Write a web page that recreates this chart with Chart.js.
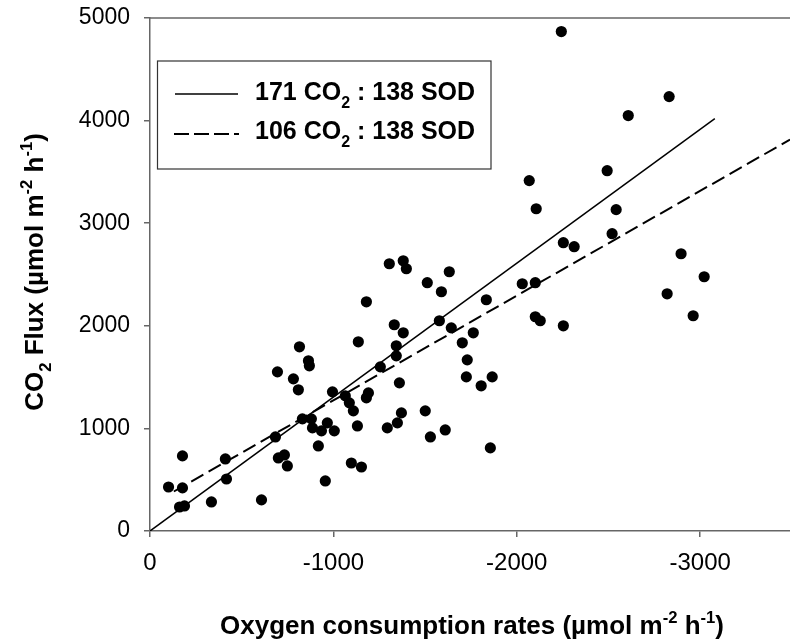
<!DOCTYPE html>
<html>
<head>
<meta charset="utf-8">
<script src="https://cdn.jsdelivr.net/npm/chart.js@4"></script>
<style>
  html, body { margin: 0; padding: 0; background: #fff; }
</style>
</head>
<body>
<canvas id="chart-flux" width="790" height="643"></canvas>
<script>
// oxygen consumption (x) and CO2 flux (y)
let o2Rates = [
  -101, -177, -177, -161, -188, -335, -411, -417, -608, -684,
  -695, -700, -733, -749, -782, -809, -815, -831, -864, -869,
  -880, -886, -918, -935, -956, -967, -995, -1005, -1065, -1087,
  -1098, -1109, -1131, -1136, -1153, -1180, -1180, -1191, -1256, -1294,
  -1305, -1332, -1343, -1343, -1349, -1360, -1371, -1381, -1398, -1381,
  -1501, -1512, -1529, -1578, -1589, -1610, -1632, -1643, -1703, -1730,
  -1725, -1763, -1806, -1866, -1834, -1856, -2030, -2101, -2068, -2106,
  -2101, -2128, -2243, -2254, -2313, -2254, -2493, -2520, -2542, -2608,
  -2820, -2831, -2896, -2962, -3022
]
let co2Flux = [
  429, 732, 420, 234, 244, 283, 702, 507, 303, 917,
  1551, 712, 741, 634, 1483, 1376, 1795, 1093, 1659, 1610,
  1093, 1005, 829, 976, 488, 1054, 1356, 976, 1317, 1249,
  663, 1171, 1024, 1844, 624, 2234, 1298, 1346, 1600, 1005,
  2605, 2010, 1805, 1707, 1054, 1444, 1151, 2634, 2556, 1932,
  1171, 2420, 917, 2049, 2332, 985, 2527, 1980, 1834, 1668,
  1502, 1932, 1415, 1502, 2254, 810, 2410, 2420, 3415, 3141,
  2088, 2049, 4868, 2810, 2771, 2000, 3512, 2898, 3132, 4049,
  2312, 4234, 2702, 2098, 2478
]

// ratio lines (end points as drawn)
let solidLineX = [0, -3080]
let solidLineY = [0, 4020]
let dashedLineX = [-130, -3490]
let dashedLineY = [385, 3815]

let xTicks = [0, -1000, -2000, -3000]
let yTicks = [0, 1000, 2000, 3000, 4000, 5000]

let legendLabels = [
  [["171 CO", ""], ["2", "sub"], [" : 138 SOD", ""]],
  [["106 CO", ""], ["2", "sub"], [" : 138 SOD", ""]]
]
let yTitle = [["CO", ""], ["2", "sub"], [" Flux (\u00b5mol m", ""], ["-2", "sup"], [" h", ""], ["-1", "sup"], [")", ""]]
let xTitle = [["Oxygen consumption rates (\u00b5mol m", ""], ["-2", "sup"], [" h", ""], ["-1", "sup"], [")", ""]]

let scatterPts = []
for (let i = 0; i < o2Rates.length; i++) {
  scatterPts.push({x: o2Rates[i], y: co2Flux[i]})
}
function toPts(xs, ys) {
  return xs.map((v, i) => ({x: v, y: ys[i]}))
}

const FONT = "'Liberation Sans', Arial, sans-serif"

// draws text with sub/superscripts
function drawRich(ctx, segs, x, y, size, align) {
  let total = 0
  segs.forEach(s => {
    let fs = s[1] ? size * 0.64 : size
    ctx.font = "bold " + fs + "px " + FONT
    total += ctx.measureText(s[0]).width
  })
  let cx = align === "center" ? x - total / 2 : x
  ctx.textAlign = "left"
  ctx.textBaseline = "alphabetic"
  segs.forEach(s => {
    let fs = s[1] ? size * 0.64 : size
    ctx.font = "bold " + fs + "px " + FONT
    let dy = s[1] === "sub" ? size * 0.3 : (s[1] === "sup" ? -size * 0.42 : 0)
    ctx.fillText(s[0], cx, y + dy)
    cx += ctx.measureText(s[0]).width
  })
}

const extras = {
  id: "extras",
  afterDraw(chart) {
    let ctx = chart.ctx
    let a = chart.chartArea
    ctx.save()
    // frame top
    ctx.strokeStyle = "#666"
    ctx.lineWidth = 1.5
    ctx.beginPath()
    ctx.moveTo(a.left, a.top)
    ctx.lineTo(a.right, a.top)
    ctx.stroke()

    // legend box
    ctx.strokeStyle = "#333"
    ctx.lineWidth = 1.2
    ctx.strokeRect(157.5, 61, 333.5, 108)
    ctx.strokeStyle = "#000"
    ctx.lineWidth = 1.3
    ctx.beginPath()
    ctx.moveTo(175, 94)
    ctx.lineTo(238, 94)
    ctx.stroke()
    ctx.setLineDash([15, 5])
    ctx.lineWidth = 2
    ctx.beginPath()
    ctx.moveTo(174, 134)
    ctx.lineTo(239, 134)
    ctx.stroke()
    ctx.setLineDash([])
    ctx.fillStyle = "#000"
    drawRich(ctx, legendLabels[0], 255, 100, 25, "left")
    drawRich(ctx, legendLabels[1], 255, 139, 25, "left")

    // axis titles
    drawRich(ctx, xTitle, 472, 634, 26, "center")
    ctx.translate(43, 272)
    ctx.rotate(-Math.PI / 2)
    drawRich(ctx, yTitle, 0, 0, 26, "center")
    ctx.restore()
  }
}

let fluxChart = new Chart(
  document.getElementById("chart-flux").getContext("2d"),
  {
    type: "scatter",
    data: {
      datasets: [
        {
          label: "data",
          data: scatterPts,
          backgroundColor: "#000",
          borderColor: "#000",
          pointRadius: 5.6,
          pointBorderWidth: 0
        },
        {
          type: "line",
          label: "171 CO2 : 138 SOD",
          data: toPts(solidLineX, solidLineY),
          borderColor: "#000",
          borderWidth: 1.5,
          pointRadius: 0,
          fill: false
        },
        {
          type: "line",
          label: "106 CO2 : 138 SOD",
          data: toPts(dashedLineX, dashedLineY),
          borderColor: "#000",
          borderWidth: 2,
          borderDash: [14, 6],
          pointRadius: 0,
          fill: false
        }
      ]
    },
    options: {
      responsive: false,
      animation: false,
      layout: { autoPadding: false, padding: { top: 18, left: 0, right: 0, bottom: 0 } },
      plugins: {
        legend: { display: false },
        tooltip: { enabled: false }
      },
      scales: {
        x: {
          type: "linear",
          reverse: true,
          min: -3490,
          max: 0,
          afterBuildTicks: s => { s.ticks = xTicks.map(v => ({value: v})) },
          ticks: {
            includeBounds: false,
            color: "#000",
            padding: 12,
            maxRotation: 0,
            font: { family: FONT, size: 24 },
            callback: v => String(v)
          },
          grid: { drawOnChartArea: false, tickLength: 6, color: "#666", lineWidth: 1.5 },
          border: { color: "#666", width: 1.5 },
          afterFit: s => { s.height = 112; s.paddingLeft = 0; s.paddingRight = 0 }
        },
        y: {
          min: 0,
          max: 5000,
          afterBuildTicks: s => { s.ticks = yTicks.map(v => ({value: v})) },
          ticks: {
            color: "#000",
            padding: 14,
            font: { family: FONT, size: 23 },
            callback: v => String(v)
          },
          grid: { drawOnChartArea: false, tickLength: 6, color: "#666", lineWidth: 1.5 },
          border: { color: "#666", width: 1.5 },
          afterFit: s => { s.width = 150; s.paddingTop = 0; s.paddingBottom = 0 }
        }
      }
    },
    plugins: [extras]
  }
)
</script>
</body>
</html>
